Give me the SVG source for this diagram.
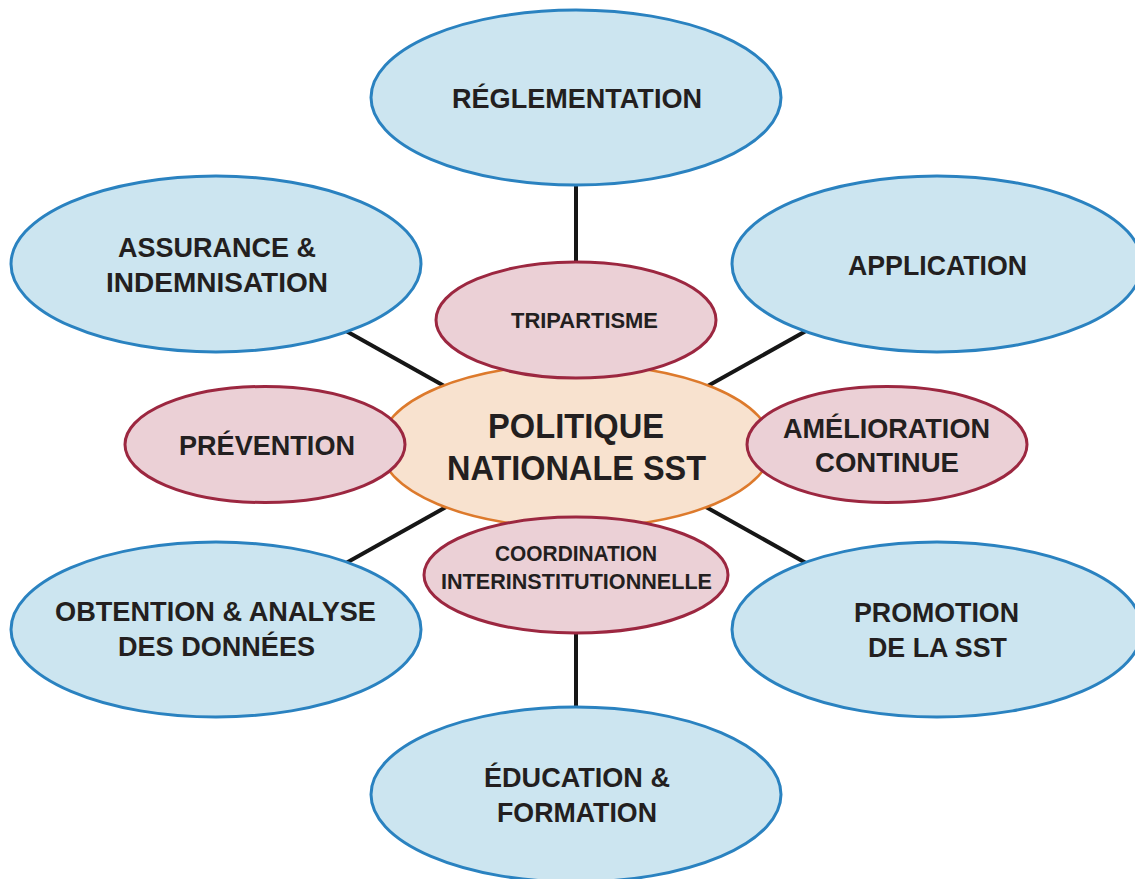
<svg xmlns="http://www.w3.org/2000/svg" width="1135" height="879" viewBox="0 0 1135 879">
<style>
.conn{stroke:#161616;stroke-width:4;fill:none}
.blue{fill:#cce5f0;stroke:#2a82c0;stroke-width:3}
.pink{fill:#ebd0d6;stroke:#9c2740;stroke-width:3}
.core{fill:#f8e2cf;stroke:#dd7a2c;stroke-width:2.5}
text{font-family:"Liberation Sans",Arial,sans-serif;font-weight:bold;fill:#231f20;text-anchor:middle}
.big{font-size:28px}
.mid{font-size:22px}
.ctr{font-size:35px}
</style>
<rect width="1135" height="879" fill="#ffffff"/>
<g id="connectors">
<line class="conn" x1="576" y1="180" x2="576" y2="270"/>
<line class="conn" x1="576" y1="625" x2="576" y2="712"/>
<line class="conn" x1="330" y1="322" x2="455" y2="392"/>
<line class="conn" x1="822" y1="322" x2="697" y2="392"/>
<line class="conn" x1="330" y1="572" x2="455" y2="502"/>
<line class="conn" x1="822" y1="572" x2="697" y2="502"/>
</g>
<g id="reglementation">
<ellipse class="blue" cx="576" cy="97.5" rx="205" ry="87.5"/>
<text class="big" x="577" y="108" textLength="250" lengthAdjust="spacingAndGlyphs">RÉGLEMENTATION</text>
</g>
<g id="assurance">
<ellipse class="blue" cx="216" cy="264" rx="205" ry="88"/>
<text class="big" x="217" y="257" textLength="198" lengthAdjust="spacingAndGlyphs">ASSURANCE &amp;</text>
<text class="big" x="217" y="292" textLength="222" lengthAdjust="spacingAndGlyphs">INDEMNISATION</text>
</g>
<g id="application">
<ellipse class="blue" cx="937" cy="264" rx="205" ry="88"/>
<text class="big" x="937.5" y="275" textLength="179" lengthAdjust="spacingAndGlyphs">APPLICATION</text>
</g>
<g id="obtention">
<ellipse class="blue" cx="216" cy="629.5" rx="205" ry="87.5"/>
<text class="big" x="215.5" y="621" textLength="321" lengthAdjust="spacingAndGlyphs">OBTENTION &amp; ANALYSE</text>
<text class="big" x="216.5" y="656" textLength="197" lengthAdjust="spacingAndGlyphs">DES DONNÉES</text>
</g>
<g id="promotion">
<ellipse class="blue" cx="937" cy="629.5" rx="205" ry="87.5"/>
<text class="big" x="936.5" y="622" textLength="165" lengthAdjust="spacingAndGlyphs">PROMOTION</text>
<text class="big" x="937.5" y="657" textLength="139" lengthAdjust="spacingAndGlyphs">DE LA SST</text>
</g>
<g id="education">
<ellipse class="blue" cx="576" cy="794.5" rx="205" ry="87.5"/>
<text class="big" x="577" y="787" textLength="186" lengthAdjust="spacingAndGlyphs">ÉDUCATION &amp;</text>
<text class="big" x="577" y="822" textLength="160" lengthAdjust="spacingAndGlyphs">FORMATION</text>
</g>
<g id="politique">
<ellipse class="core" cx="576" cy="446" rx="196" ry="82"/>
<text class="ctr" x="576" y="438" textLength="176" lengthAdjust="spacingAndGlyphs">POLITIQUE</text>
<text class="ctr" x="576.5" y="480" textLength="259" lengthAdjust="spacingAndGlyphs">NATIONALE SST</text>
</g>
<g id="tripartisme">
<ellipse class="pink" cx="576" cy="320" rx="140" ry="58"/>
<text class="mid" x="584.5" y="328" textLength="147" lengthAdjust="spacingAndGlyphs">TRIPARTISME</text>
</g>
<g id="prevention">
<ellipse class="pink" cx="265" cy="444.5" rx="140" ry="58"/>
<text class="big" x="267" y="455" textLength="176" lengthAdjust="spacingAndGlyphs">PRÉVENTION</text>
</g>
<g id="amelioration">
<ellipse class="pink" cx="887" cy="444.5" rx="140" ry="58"/>
<text class="big" x="886.5" y="438" textLength="207" lengthAdjust="spacingAndGlyphs">AMÉLIORATION</text>
<text class="big" x="887" y="472" textLength="144" lengthAdjust="spacingAndGlyphs">CONTINUE</text>
</g>
<g id="coordination">
<ellipse class="pink" cx="576" cy="575" rx="152" ry="58"/>
<text class="mid" x="576" y="561" textLength="162" lengthAdjust="spacingAndGlyphs">COORDINATION</text>
<text class="mid" x="576.5" y="589" textLength="271" lengthAdjust="spacingAndGlyphs">INTERINSTITUTIONNELLE</text>
</g>
</svg>
